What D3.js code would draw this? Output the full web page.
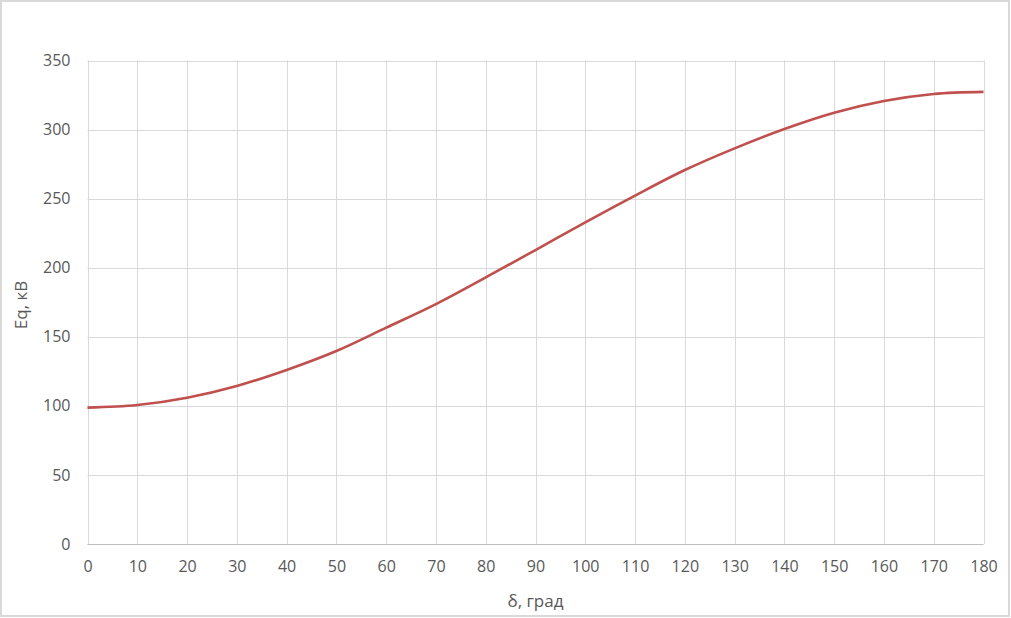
<!DOCTYPE html>
<html><head><meta charset="utf-8">
<script src="https://cdn.jsdelivr.net/npm/d3@7"></script>
<style>body{margin:0;background:#fff}svg{display:block}text{font-family:"Open Sans",sans-serif;fill:#595959}</style>
</head><body>
<svg id="c" width="1011" height="618"></svg>
<script>
const delta = [0,10,20,30,40,50,60,70,80,90,100,110,120,130,140,150,160,170,180];
const eq = [98.7,100.6,105.9,114.4,126,139.7,156.6,173.7,193,212.8,232.8,252.2,270.7,286.4,300.4,312.2,320.7,325.8,327.3];
const xTicks = d3.range(0,181,10);
const yTicks = d3.range(0,351,50);
const xTitle = "δ, град";
const yTitle = "Eq, кВ";

const svg = d3.select("#c");
const m = {l:87.5, r:983.5, t:60.5, b:544};
const x = d3.scaleLinear().domain([0,180]).range([m.l,m.r]);
const y = d3.scaleLinear().domain([0,350]).range([m.b,m.t]);

svg.append("rect").attr("x",1).attr("y",1).attr("width",1008).attr("height",615)
  .attr("fill","#fff").attr("stroke","#d9d9d9").attr("stroke-width",2);

const g = svg.append("g");
g.selectAll(".hg").data(yTicks).join("line")
  .attr("x1",m.l).attr("x2",m.r).attr("y1",d=>Math.round(y(d))+0.5).attr("y2",d=>Math.round(y(d))+0.5)
  .attr("stroke","#d9d9d9").attr("stroke-width",1);
g.selectAll(".vg").data(xTicks).join("line")
  .attr("y1",m.t).attr("y2",m.b).attr("x1",d=>Math.round(x(d))+0.5).attr("x2",d=>Math.round(x(d))+0.5)
  .attr("stroke","#d9d9d9").attr("stroke-width",1);
g.append("line").attr("x1",m.l).attr("x2",m.r).attr("y1",Math.round(m.b)+0.5).attr("y2",Math.round(m.b)+0.5)
  .attr("stroke","#bfbfbf");

const xa = svg.append("g").attr("transform",`translate(0,${m.b})`)
  .call(d3.axisBottom(x).tickValues(xTicks).tickSize(0).tickPadding(17).tickFormat(d3.format("d")));
const ya = svg.append("g").attr("transform",`translate(${m.l},0)`)
  .call(d3.axisLeft(y).tickValues(yTicks).tickSize(0).tickPadding(17).tickFormat(d3.format("d")));
[xa,ya].forEach(a=>{a.select(".domain").remove(); a.selectAll("text").attr("font-size",16).attr("fill","#595959").attr("font-family","Open Sans");});

svg.append("path").datum(delta.map((d,i)=>[d,eq[i]]))
  .attr("fill","none").attr("stroke","#c0504d").attr("stroke-width",2.6)
  .attr("d",d3.line().x(d=>x(d[0])).y(d=>y(d[1])).curve(d3.curveCatmullRom.alpha(0.5)));

svg.append("text").attr("x",(m.l+m.r)/2).attr("y",607).attr("text-anchor","middle")
  .attr("font-size",17).text(xTitle);
svg.append("text").attr("transform",`translate(27,305) rotate(-90)`).attr("text-anchor","middle")
  .attr("font-size",17).text(yTitle);
</script>
</body></html>
